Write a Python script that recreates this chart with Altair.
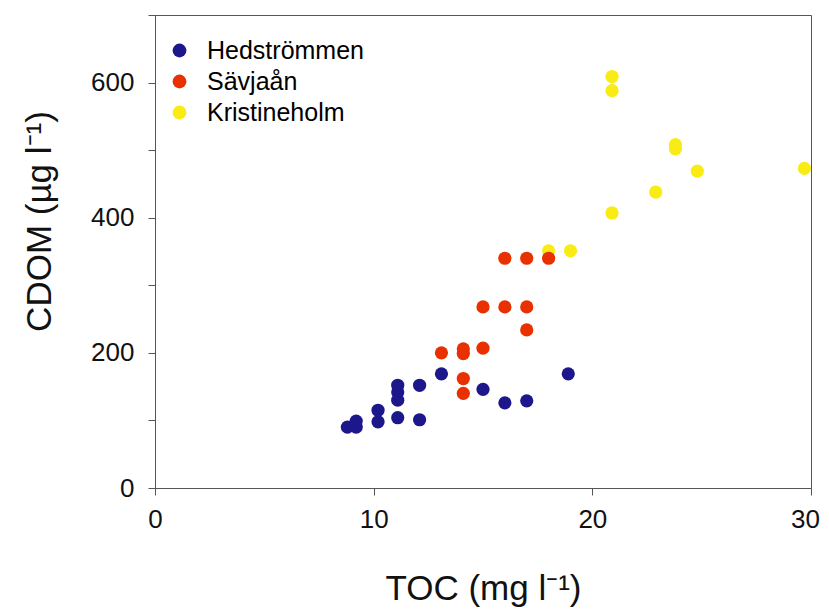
import altair as alt
import pandas as pd

sites = ["Hedströmmen", "Sävjaån", "Kristineholm"]
colors = ["#1c188c", "#e83000", "#f8ec14"]

hed_toc = [8.8, 9.2, 9.2, 10.2, 10.2, 11.1, 11.1, 11.1, 11.1, 12.1, 12.1, 13.1, 15.0, 16.0, 17.0, 18.9]
hed_cdom = [90, 90, 99, 115, 98, 152, 142, 130, 104, 152, 101, 169, 146, 126, 129, 169]

sav_toc = [16.0, 17.0, 18.0, 15.0, 16.0, 17.0, 17.0, 13.1, 14.1, 14.1, 15.0, 14.1, 14.1]
sav_cdom = [340, 340, 340, 268, 268, 268, 234, 200, 206, 199, 207, 162, 140]

kri_toc = [18.0, 19.0, 20.9, 20.9, 20.9, 22.9, 23.8, 23.8, 24.8, 29.7]
kri_cdom = [351, 351, 407, 588, 609, 438, 502, 508, 469, 473]

rows = []
for s, xs, ys in [(sites[2], kri_toc, kri_cdom), (sites[1], sav_toc, sav_cdom), (sites[0], hed_toc, hed_cdom)]:
    for x, y in zip(xs, ys):
        rows.append({"site": s, "TOC": x, "CDOM": y})
df = pd.DataFrame(rows)

FONT = "Liberation Sans"
AX = "#555555"

chart = alt.Chart(df).mark_circle(size=175, opacity=1).encode(
    x=alt.X("TOC:Q", scale=alt.Scale(domain=[0, 30], nice=False),
            axis=alt.Axis(values=[0, 10, 20, 30], title="TOC (mg l⁻¹)", grid=False,
                          tickSize=7, labelPadding=11, titlePadding=39,
                          labelOffset={"condition": {"test": "datum.value == 30", "value": -6}, "value": 0})),
    y=alt.Y("CDOM:Q", scale=alt.Scale(domain=[0, 700], nice=False),
            axis=alt.Axis(values=[0, 100, 200, 300, 400, 500, 600, 700], grid=False,
                          labelExpr="datum.value % 200 == 0 && datum.value < 700 ? datum.label : ''",
                          title="CDOM (µg l⁻¹)", tickSize=7, labelPadding=14,
                          titleX=-105, titleY=206, titleBaseline="alphabetic",
                          titleAlign="center", titleAngle=270)),
    color=alt.Color("site:N", scale=alt.Scale(domain=sites, range=colors),
                    legend=alt.Legend(title=None, orient="none", legendX=12, legendY=23,
                                      symbolSize=190, labelFontSize=25, labelFont=FONT,
                                      labelOffset=15, rowPadding=5, padding=0,
                                      symbolType="circle", symbolStrokeWidth=0)),
).properties(
    width=656, height=473,
    autosize=alt.AutoSizeParams(type="none"),
    padding={"left": 147, "top": 7, "right": 10, "bottom": 120},
).configure_view(
    stroke=AX, strokeWidth=1
).configure_axis(
    labelFont=FONT, titleFont=FONT, labelFontSize=26, titleFontSize=35,
    titleFontWeight="normal", labelColor="#111", titleColor="#111",
    domainColor=AX, tickColor=AX, labelFlush=False, labelOverlap=False
)

chart.save("out.html", embed_options={"renderer": "svg", "actions": False})
